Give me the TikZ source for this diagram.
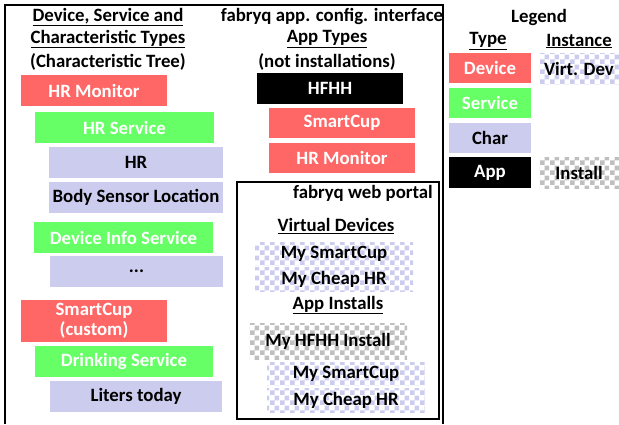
\documentclass[tikz,border=0pt]{standalone}
\usepackage{fontspec}
\setmainfont{Carlito}
\usetikzlibrary{patterns}
\pgfdeclarepatternformonly{chk}{\pgfpointorigin}{\pgfpoint{10pt}{10pt}}{\pgfpoint{10pt}{10pt}}{%
  \pgfpathrectangle{\pgfpointorigin}{\pgfpoint{5pt}{5pt}}%
  \pgfpathrectangle{\pgfpoint{5pt}{5pt}}{\pgfpoint{5pt}{5pt}}%
  \pgfusepath{fill}}
\definecolor{devc}{HTML}{FF6666}
\definecolor{srvc}{HTML}{66FF66}
\definecolor{chrc}{HTML}{CCCCEE}
\definecolor{gryc}{HTML}{BFBFBF}
\begin{document}
\begin{tikzpicture}[x=1pt,y=-1pt,
  font=\fontsize{18.8}{21}\selectfont\bfseries,
  sz/.style n args={2}{minimum width=#1pt, minimum height=#2pt},
  bx/.style={inner sep=0pt, outer sep=0pt, draw=none},
  devbox/.style={bx, fill=devc, text=white},
  srvbox/.style={bx, fill=srvc, text=white},
  chrbox/.style={bx, fill=chrc, text=black},
  appbox/.style={bx, fill=black, text=white},
  vdbox/.style={bx, pattern=chk, pattern color=chrc, text=black},
  insbox/.style={bx, pattern=chk, pattern color=gryc, text=black},
  lbl/.style={inner sep=0pt, text=black},
  frame/.style={line width=1.8pt, black},
  portal/.style={line width=1.3pt, black}]
\useasboundingbox (0,0) rectangle (619,424);

% frame
\coordinate (fbl) at (5,424);
\coordinate (ftl) at (5,5);
\coordinate (ftr) at (443,5);
\coordinate (fbr) at (443,424);
\draw[frame] (fbl) -- (ftl) -- (ftr) -- (fbr);

% left column headers
\node[lbl] (h1) at (108,17) {\underline{Device, Service and}};
\node[lbl] (h2) at (108,39) {\underline{Characteristic Types}};
\node[lbl] (h3) at (108,62) {(Characteristic Tree)};

% left tree
\node[devbox, sz={146}{31}] (hrmon) at (94,90.5) {HR Monitor};
\node[srvbox, sz={179}{31}] (hrsrv) at (124.5,127.5) {HR Service};
\node[chrbox, sz={174}{31}] (hr) at (136,162.5) {HR};
\node[chrbox, sz={174}{31}] (bsl) at (136,197.5) {Body Sensor Location};
\node[srvbox, sz={179}{31}] (dis) at (123.5,237.5) {Device Info Service};
\node[chrbox, sz={173}{31}] (dots) at (136.5,271.5) {...};
\node[devbox, sz={146}{42}, align=center, font=\fontsize{18.8}{20.5}\selectfont\bfseries] (scup) at (94,321) {SmartCup\\(custom)};
\node[srvbox, sz={178}{31}] (drink) at (124,361.5) {Drinking Service};
\node[chrbox, sz={172}{31}] (liters) at (136,396.5) {Liters today};

% middle column
\node[lbl] (m1) at (332,16) {fabryq app. config. interface};
\node[lbl] (m2) at (327,39) {\underline{App Types}};
\node[lbl] (m3) at (327,62) {(not installations)};
\node[appbox, sz={146}{31}] (hfhh) at (330,88.5) {HFHH};
\node[devbox, sz={146}{30}] (scapp) at (342,123) {SmartCup};
\node[devbox, sz={146}{30}] (hrapp) at (342,158) {HR Monitor};

% web portal
\coordinate (ptl) at (237,182);
\coordinate (pbr) at (439,419);
\draw[portal] (ptl) rectangle (pbr);
\node[lbl] (p1) at (363,193) {fabryq web portal};
\node[lbl] (p2) at (336,226) {\underline{Virtual Devices}};
\node[vdbox, sz={158}{23}] (vd1) at (334,253.5) {My SmartCup};
\node[vdbox, sz={158}{24}] (vd2) at (334,279) {My Cheap HR};
\node[lbl] (p3) at (338,305) {\underline{App Installs}};
\node[insbox, sz={158}{36}] (inst) at (328,341) {My HFHH Install};
\node[vdbox, sz={158}{23}] (iv1) at (346,373.5) {My SmartCup};
\node[vdbox, sz={158}{24}] (iv2) at (346,400) {My Cheap HR};

% legend
\node[lbl] (leg) at (539,17) {Legend};
\node[lbl] (ltype) at (488,41) {\underline{Type}};
\node[lbl] (linstance) at (579,41) {\underline{Instance}};
\node[devbox, sz={82}{30}] (ldev) at (490,68) {Device};
\node[srvbox, sz={82}{30}] (lsrv) at (490,103) {Service};
\node[chrbox, sz={82}{30}] (lchr) at (490,138) {Char};
\node[appbox, sz={82}{31}] (lapp) at (490,172.5) {App};
\node[vdbox, sz={80}{31}] (lvd) at (579,68.5) {Virt. Dev};
\node[insbox, sz={80}{31}] (linst) at (579,172.5) {Install};
\end{tikzpicture}
\end{document}
